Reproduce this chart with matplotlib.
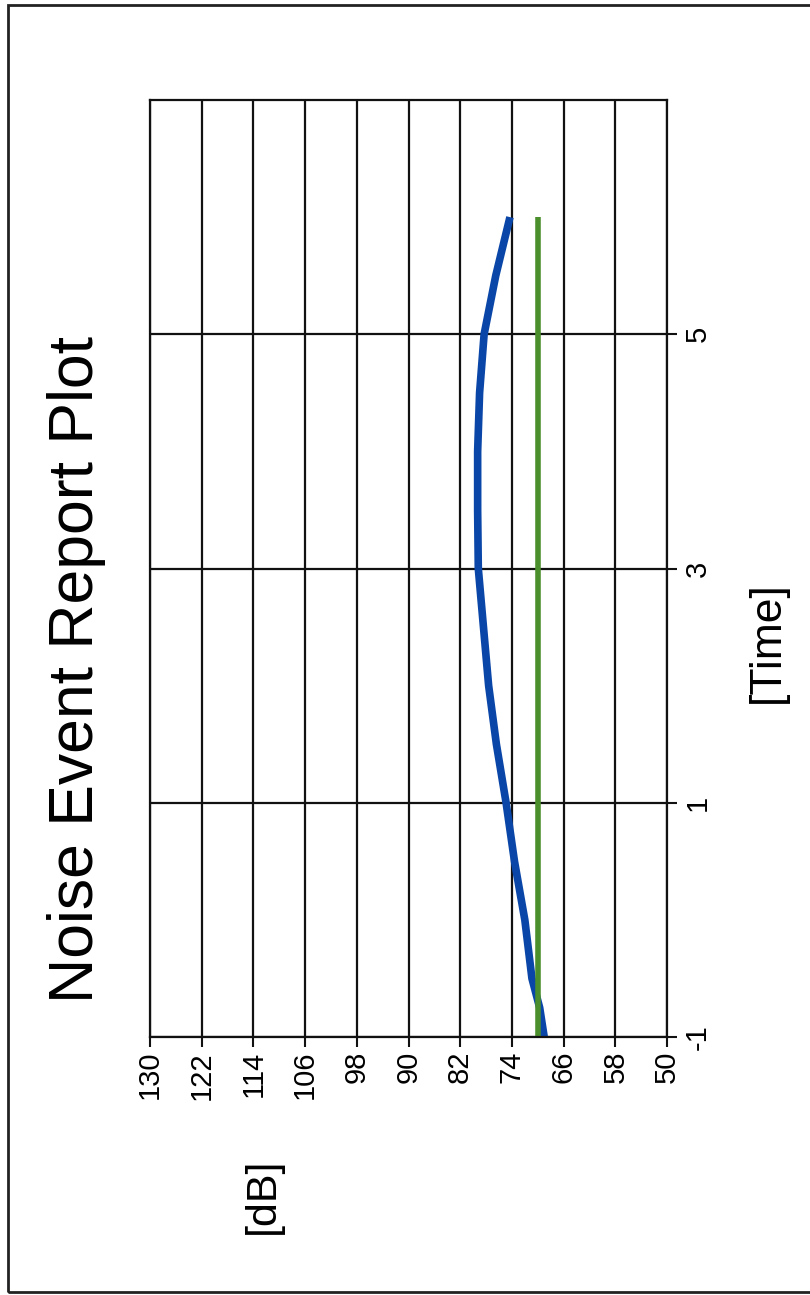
import matplotlib
matplotlib.use("Agg")
import matplotlib.pyplot as plt
from matplotlib.patches import Rectangle

plt.rcParams['font.family'] = ['Liberation Sans', 'DejaVu Sans']

# time values and measured levels (chart is printed rotated 90 degrees)
time = [-1, -0.75, -0.5, 0, 0.5, 1, 1.5, 2, 2.5, 3, 3.5, 4, 4.5, 5, 5.5, 6]
level_db = [69.0, 69.7, 70.9, 72.0, 73.6, 74.9, 76.4, 77.6, 78.4, 79.2,
            79.3, 79.3, 79.0, 78.3, 76.5, 74.3]
limit_time = [-1, 6]
limit_db = [70, 70]

db_ticks = [130, 122, 114, 106, 98, 90, 82, 74, 66, 58, 50]
time_ticks = [-1, 1, 3, 5]

fig = plt.figure(figsize=(8.1, 12.95), dpi=100)

# outer page border
fig.patches.append(Rectangle((8 / 810, 1 - 1292 / 1295), 810, (1292 - 5) / 1295,
                             transform=fig.transFigure, fill=False,
                             edgecolor='#222222', linewidth=2))

ax = fig.add_axes([150 / 810, 1 - 1037 / 1295, 517 / 810, 937 / 1295])

ax.plot(level_db, time, color='#0a46a8', linewidth=5.5, solid_capstyle='butt')
ax.plot(limit_db, limit_time, color='#4b8f2c', linewidth=4, solid_capstyle='butt')

ax.set_xlim(130, 50)
ax.set_ylim(-1, 7)
ax.set_xticks(db_ticks)
ax.set_xticklabels([str(v) for v in db_ticks], rotation=90, fontsize=21)
ax.set_yticks(time_ticks)
ax.set_yticklabels([str(v) for v in time_ticks], rotation=90, fontsize=21,
                   va='center')
ax.yaxis.tick_right()
ax.tick_params(axis='x', length=7, width=1.5, pad=3, color='#111111')
ax.tick_params(axis='y', length=7, width=1.5, pad=5, color='#111111')
ax.grid(True, color='#111111', linewidth=1.6)
for s in ax.spines.values():
    s.set_linewidth(1.6)
    s.set_color('#111111')

fig.text(0.095, 0.483, 'Noise Event Report Plot', rotation=90, fontsize=45,
         ha='center', va='center')
fig.text(0.325, 0.077, '[dB]', rotation=90, fontsize=31,
         ha='center', va='center')
fig.text(0.947, 0.504, '[Time]', rotation=90, fontsize=32,
         ha='center', va='center')

fig.savefig('out.png', dpi=100)
